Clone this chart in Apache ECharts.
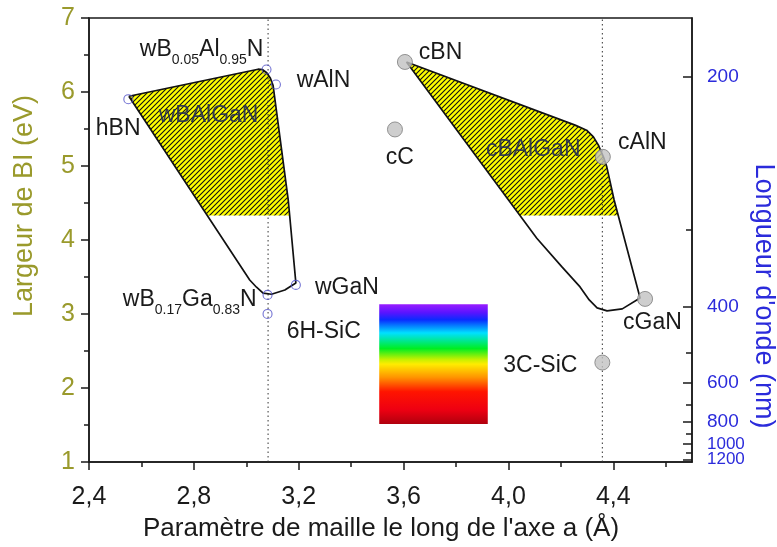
<!DOCTYPE html>
<html>
<head>
<meta charset="utf-8">
<script src="https://cdn.jsdelivr.net/npm/echarts@6/dist/echarts.min.js"></script>
<style>
  html, body { margin: 0; background: #fff; }
  #chart { width: 777px; height: 547px; }
</style>
</head>
<body>
<div id="chart"></div>
<script>
// lattice parameter a (Å) vs band gap (eV)
const xTicks = [2.4, 2.8, 3.2, 3.6, 4.0, 4.4]
const xTickLabels = ['2,4', '2,8', '3,2', '3,6', '4,0', '4,4']
const xMinorTicks = [2.6, 3.0, 3.4, 3.8, 4.2, 4.6]
const wlMajor = [200, 400, 600, 800, 1000, 1200]   // nm, right axis labels
const wlMinor = [300, 500, 700, 900, 1100]

// wurtzite (open circles)
const wurtzPts = [[2.550, 5.903], [3.077, 6.304], [3.113, 6.101], [3.189, 3.393], [3.081, 3.258], [3.081, 3.001]]
// cubic (grey filled)
const cubicPts = [[3.605, 6.406], [3.567, 5.494], [4.360, 5.124], [4.521, 3.204], [4.358, 2.344]]

// hand-traced region outlines
const wurtzOutline = [
  [2.552, 5.943], [3.045, 6.308], [3.061, 6.304], [3.078, 6.260], [3.092, 6.186], [3.102, 6.092],
  [3.160, 4.540], [3.189, 3.420], [3.147, 3.325], [3.096, 3.267], [3.064, 3.281], [3.039, 3.362], [3.013, 3.460]
]
const cubicOutline = [
  [3.611, 6.406], [4.254, 5.552], [4.298, 5.484], [4.324, 5.394], [4.343, 5.282], [4.362, 5.124], [4.375, 4.989],
  [4.403, 4.540], [4.502, 3.217], [4.434, 3.069], [4.376, 3.042], [4.338, 3.083], [4.308, 3.190], [4.273, 3.366],
  [4.204, 3.636], [4.108, 4.023]
]
const hatchCut = 4.33

const refLinesA = [3.083, 4.358]
const spectrumBox = [3.507, 3.132, 3.921, 1.513]   // a0, Etop, a1, Ebottom

const pointLabels = ['hBN', '{m|wB}{s|0.05}{m|Al}{s|0.95}{m|N}', 'wAlN', 'wGaN',
  '{m|wB}{s|0.17}{m|Ga}{s|0.83}{m|N}', '6H-SiC', 'cBN', 'cC', 'cAlN', 'cGaN', '3C-SiC']
const pointLabelPos = [[2.426, 5.511], [2.594, 6.537], [3.192, 6.159], [3.262, 3.352],
  [2.529, 3.150], [3.154, 2.758], [3.658, 6.537], [3.532, 5.107], [4.418, 5.309], [4.437, 2.880], [3.980, 2.303]]
const regionNames = ['wBAlGaN', 'cBAlGaN']
const regionNamePos = [[2.666, 5.687], [3.914, 5.215]]

const HC = 1240
const wlMajorE = wlMajor.map(w => HC / w)
const wlMinorE = wlMinor.map(w => HC / w)
// last label goes on a second axis so the tight pair 1000/1200 both show
const wlLabelE = wlMajorE.slice(0, -1)
const wlLastE = wlMajorE.slice(-1)

const C = { ink: '#1a1a1a', olive: '#9a9a2c', blue: '#2b2bdb' }
const FONT = '"Liberation Sans", Arial, sans-serif'

function clipAbove(poly, cut) {
  const out = []
  for (let i = 0; i < poly.length; i++) {
    const a = poly[i], b = poly[(i + 1) % poly.length]
    const ain = a[1] >= cut, bin = b[1] >= cut
    if (ain) out.push(a)
    if (ain !== bin) {
      const t = (cut - a[1]) / (b[1] - a[1])
      out.push([a[0] + t * (b[0] - a[0]), cut])
    }
  }
  return out
}

function hatchPattern() {
  const c = document.createElement('canvas')
  c.width = 5; c.height = 5
  const g = c.getContext('2d')
  g.fillStyle = '#ffff00'
  g.fillRect(0, 0, 5, 5)
  g.strokeStyle = '#111'
  g.lineWidth = 1.1
  g.beginPath()
  g.moveTo(-1, 6); g.lineTo(6, -1)
  g.moveTo(-1, 1); g.lineTo(1, -1)
  g.moveTo(4, 6); g.lineTo(6, 4)
  g.stroke()
  return c
}

const hatchRegions = [clipAbove(wurtzOutline, hatchCut), clipAbove(cubicOutline, hatchCut)]
const pattern = { image: hatchPattern(), repeat: 'repeat' }
const closed = arr => arr.concat([arr[0]])

const richText = {
  m: { fontSize: 23, fontFamily: FONT, lineHeight: 23, verticalAlign: 'top' },
  s: { fontSize: 14, fontFamily: FONT, lineHeight: 29, verticalAlign: 'bottom' },
}

const wlFormatter = v => {
  const w = wlMajor[wlMajorE.findIndex(e => Math.abs(e - v) < 1e-6)]
  return w >= 1000 ? '{s|' + w + '}' : String(w)
}
const wlRich = { s: { fontSize: 17, fontFamily: FONT, color: C.blue, lineHeight: 13 } }

const chart = echarts.init(document.getElementById('chart'), null, { renderer: 'canvas' })

chart.setOption({
  animation: false,
  backgroundColor: '#fff',
  grid: { left: 89, right: 85, top: 18, bottom: 85, show: true, borderColor: C.ink, borderWidth: 1.5, outerBoundsMode: 'none' },
  xAxis: [{
    type: 'value', min: 2.4, max: 4.7, position: 'bottom',
    axisLine: { lineStyle: { color: C.ink, width: 1.5 } },
    axisTick: { length: 8, customValues: xTicks, lineStyle: { color: C.ink, width: 1.5 } },
    axisLabel: {
      customValues: xTicks, margin: 23, color: C.ink, fontSize: 25, fontFamily: FONT,
      formatter: v => xTickLabels[xTicks.findIndex(t => Math.abs(t - v) < 1e-6)] ?? '',
    },
    splitLine: { show: false },
  }, {
    type: 'value', min: 2.4, max: 4.7, position: 'bottom',
    axisLine: { show: false },
    axisTick: { length: 5, customValues: xMinorTicks, lineStyle: { color: C.ink, width: 1.5 } },
    axisLabel: { show: false },
    splitLine: { show: false },
  }],
  yAxis: [{
    type: 'value', min: 1, max: 7, interval: 1, position: 'left',
    axisLine: { show: true, lineStyle: { color: C.ink, width: 1.5 } },
    axisTick: { length: 8, lineStyle: { color: C.ink, width: 1.5 } },
    minorTick: { show: true, splitNumber: 2, length: 5, lineStyle: { color: C.ink, width: 1.5 } },
    axisLabel: { margin: 14, color: C.olive, fontSize: 25, fontFamily: FONT },
    splitLine: { show: false },
  }, {
    type: 'value', min: 1, max: 7, position: 'right',
    axisLine: { show: true, lineStyle: { color: C.ink, width: 1.5 } },
    axisTick: { inside: true, length: 9, customValues: wlMajorE, lineStyle: { color: C.ink, width: 1.5 } },
    axisLabel: {
      customValues: wlLabelE, margin: 15, color: C.blue, fontSize: 19, fontFamily: FONT,
      hideOverlap: false, showMinLabel: true, showMaxLabel: true,
      formatter: wlFormatter, rich: wlRich,
    },
    splitLine: { show: false },
  }, {
    type: 'value', min: 1, max: 7, position: 'right',
    axisLine: { show: false },
    axisTick: { inside: true, length: 6, customValues: wlMinorE, lineStyle: { color: C.ink, width: 1.5 } },
    axisLabel: {
      customValues: wlLastE, margin: 15, color: C.blue, fontSize: 19, fontFamily: FONT,
      hideOverlap: false, showMinLabel: true, showMaxLabel: true,
      formatter: wlFormatter, rich: wlRich,
    },
    splitLine: { show: false },
  }],
  graphic: [
    { type: 'text', x: 25, y: 206, rotation: Math.PI / 2,
      style: { text: 'Largeur de BI (eV)', font: '27px ' + FONT, fill: C.olive, align: 'center', verticalAlign: 'middle' } },
    { type: 'text', x: 763, y: 296, rotation: -Math.PI / 2,
      style: { text: "Longueur d'onde (nm)", font: '27px ' + FONT, fill: C.blue, align: 'center', verticalAlign: 'middle' } },
    { type: 'text', x: 381, y: 529,
      style: { text: "Paramètre de maille le long de l'axe a (Å)", font: '26px ' + FONT, fill: C.ink, align: 'center', verticalAlign: 'middle' } },
  ],
  series: [
    {
      type: 'custom', name: 'hatch', z: 1, silent: true,
      data: hatchRegions.map((r, i) => [i]),
      renderItem: (params, api) => ({
        type: 'polygon',
        shape: { points: hatchRegions[params.dataIndex].map(p => api.coord(p)) },
        style: { fill: pattern },
      }),
    },
    {
      type: 'custom', name: 'spectrum', z: 1, silent: true,
      data: [spectrumBox],
      renderItem: (params, api) => {
        const p0 = api.coord([api.value(0), api.value(1)])
        const p1 = api.coord([api.value(2), api.value(3)])
        return {
          type: 'rect',
          shape: { x: p0[0], y: p0[1], width: p1[0] - p0[0], height: p1[1] - p0[1] },
          style: {
            fill: new echarts.graphic.LinearGradient(0, 0, 0, 1, [
              { offset: 0, color: '#9a1cff' }, { offset: 0.07, color: '#5a14ff' },
              { offset: 0.13, color: '#0a2cff' }, { offset: 0.24, color: '#00e0ff' },
              { offset: 0.37, color: '#00ee22' }, { offset: 0.46, color: '#c4f000' },
              { offset: 0.5, color: '#ffec00' }, { offset: 0.61, color: '#ff9400' },
              { offset: 0.73, color: '#ff1400' }, { offset: 0.88, color: '#ee0012' },
              { offset: 1, color: '#b0000e' },
            ]),
          },
        }
      },
    },
    ...refLinesA.map(a => ({
      type: 'line', z: 2, symbol: 'none', silent: true,
      data: [[a, 1], [a, 7]],
      lineStyle: { color: '#333', width: 1, type: [1.5, 3] },
    })),
    {
      type: 'line', z: 3, symbol: 'none', silent: true, data: closed(wurtzOutline),
      lineStyle: { color: '#111', width: 1.7 },
    },
    {
      type: 'line', z: 3, symbol: 'none', silent: true, data: closed(cubicOutline),
      lineStyle: { color: '#111', width: 1.7 },
    },
    {
      type: 'scatter', z: 4, symbol: 'circle', symbolSize: 9, silent: true, data: wurtzPts,
      itemStyle: { color: 'rgba(0,0,0,0)', borderColor: '#5050c8', borderWidth: 1.1 },
    },
    {
      type: 'scatter', z: 4, symbol: 'circle', symbolSize: 15, silent: true, data: cubicPts,
      itemStyle: { color: '#c2c2c2', borderColor: '#7c7c7c', borderWidth: 1 },
    },
    {
      type: 'custom', name: 'labels', z: 5, silent: true, data: pointLabelPos,
      renderItem: (params, api) => {
        const p = api.coord([api.value(0), api.value(1)])
        const t = pointLabels[params.dataIndex]
        return {
          type: 'text', x: p[0], y: p[1],
          style: { text: t.startsWith('{') ? t : '{m|' + t + '}', rich: richText, fill: C.ink,
            font: '23px ' + FONT, align: 'left', verticalAlign: 'middle' },
        }
      },
    },
    {
      type: 'custom', name: 'regions', z: 5, silent: true, data: regionNamePos,
      renderItem: (params, api) => {
        const p = api.coord([api.value(0), api.value(1)])
        return {
          type: 'text', x: p[0], y: p[1],
          style: { text: regionNames[params.dataIndex], fill: 'rgba(35,45,85,0.9)',
            font: '23px ' + FONT, align: 'left', verticalAlign: 'middle' },
        }
      },
    },
  ],
})
</script>
</body>
</html>
